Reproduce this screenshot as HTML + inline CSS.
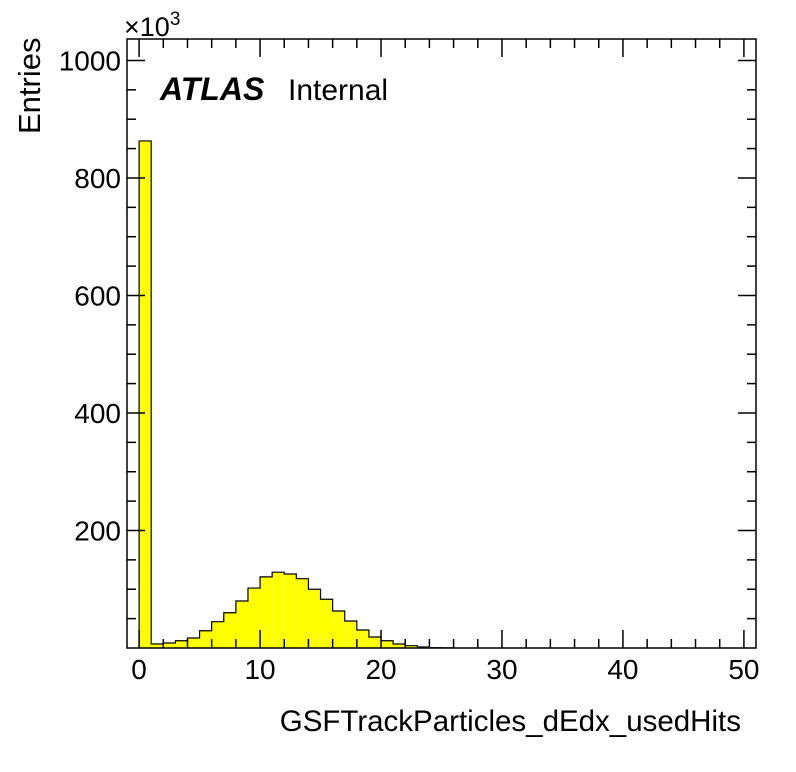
<!DOCTYPE html>
<html><head><meta charset="utf-8"><style>
html,body{margin:0;padding:0;background:#fff}
svg{display:block;font-family:"Liberation Sans",sans-serif}
</style></head><body>
<svg id="chart" width="796" height="772" viewBox="0 0 796 772">
<rect x="0" y="0" width="796" height="772" fill="#fff"/>
<g id="bars"></g>
<g id="axes"></g>
<text x="124" y="36" font-size="27">×10<tspan dy="-11" font-size="19">3</tspan></text>
<text transform="translate(40,134) rotate(-90)" font-size="31">Entries</text>
<text x="741" y="731" font-size="29.5" text-anchor="end">GSFTrackParticles_dEdx_usedHits</text>
<text x="160" y="100" font-size="32" font-weight="bold" font-style="italic">ATLAS</text>
<text x="288" y="100" font-size="30">Internal</text>
</svg>
<script>
const binLowEdges = [0,1,2,3,4,5,6,7,8,9,10,11,12,13,14,15,16,17,18,19,20,21,22,23,24,25];
const entriesK = [863,6.8,8.5,12.4,17,29.4,44.8,60,80,102,121,129,126,118,100,83,63,46,30.6,18.7,12.4,6.8,3.9,1.7,0.5,0.2];
const xTicks = [0,10,20,30,40,50];
const yTicks = [200,400,600,800,1000];
const X0=127,X1=756,Y0=648,Y1=39,XMIN=-1,XMAX=51,YMIN=0,YMAX=1036.5;
const xs=v=>X0+(v-XMIN)/(XMAX-XMIN)*(X1-X0);
const ys=v=>Y0-(v-YMIN)/(YMAX-YMIN)*(Y0-Y1);
const NS="http://www.w3.org/2000/svg";
function mk(t,a,p){const e=document.createElementNS(NS,t);for(const k in a)e.setAttribute(k,a[k]);p.appendChild(e);return e;}
const bars=document.getElementById('bars'),axes=document.getElementById('axes');
let d="M"+xs(binLowEdges[0])+","+Y0;
binLowEdges.forEach((b,i)=>{
  const r=mk('rect',{x:xs(b),y:ys(entriesK[i]),width:xs(b+1)-xs(b),height:Y0-ys(entriesK[i]),fill:'#ffff00'},bars);
  
  
  d+=" L"+xs(b)+","+ys(entriesK[i])+" L"+xs(b+1)+","+ys(entriesK[i]);
});
d+=" L"+xs(binLowEdges[binLowEdges.length-1]+1)+","+Y0;
const outline=mk('path',{d:d,fill:'none',stroke:'#000','stroke-width':1.2},bars);


const frame=mk('rect',{x:X0,y:Y1,width:X1-X0,height:Y0-Y1,fill:'none',stroke:'#000','stroke-width':1.5},axes);


for(let v=0;v<=50;v+=2){
  const L=(v%10===0)?18:9,x=xs(v);
  const t1=mk('line',{x1:x,x2:x,y1:Y0,y2:Y0-L,stroke:'#000','stroke-width':1.5},axes);
  
  
  const t2=mk('line',{x1:x,x2:x,y1:Y1,y2:Y1+L,stroke:'#000','stroke-width':1.5},axes);
  
  
}
for(let v=50;v<=1000;v+=50){
  const L=(v%200===0)?18:9,y=ys(v);
  const t1=mk('line',{x1:X0,x2:X0+L,y1:y,y2:y,stroke:'#000','stroke-width':1.5},axes);
  
  
  const t2=mk('line',{x1:X1,x2:X1-L,y1:y,y2:y,stroke:'#000','stroke-width':1.5},axes);
  
  
}
xTicks.forEach(v=>{
  const t=mk('text',{x:xs(v),y:679,'font-size':28,'text-anchor':'middle'},axes);
  t.textContent=v;
  
  
});
yTicks.forEach(v=>{
  const t=mk('text',{x:121,y:ys(v)+10,'font-size':28,'text-anchor':'end'},axes);
  t.textContent=v;
  
  
});
</script>
</body></html>
